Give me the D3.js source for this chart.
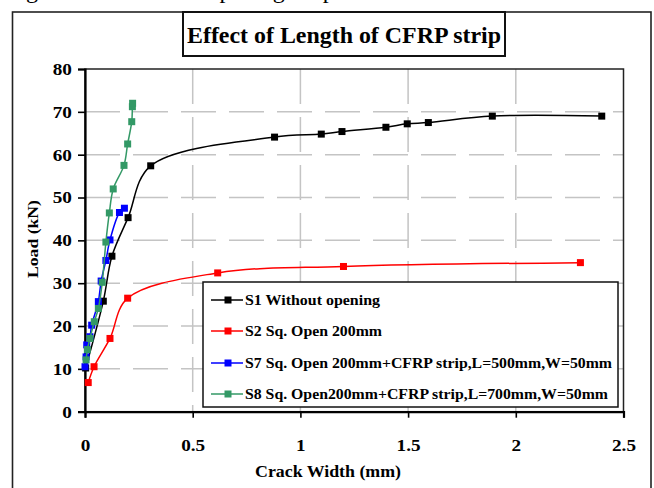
<!DOCTYPE html>
<html>
<head>
<meta charset="utf-8">
<script src="https://cdn.jsdelivr.net/npm/d3@7"></script>
<style>
  body { margin: 0; background: #fff; }
  svg { display: block; }
  text { font-family: "Liberation Serif", "Times New Roman", serif; fill: #000; }
</style>
</head>
<body>
<svg id="chart" width="654" height="488"></svg>
<script>
// Load vs crack width for the four slab specimens
const captionText = "Figure 5.3: Effect of opening shape on load-crack width";
const chartTitle = "Effect of Length of CFRP strip";
const xAxisTitle = "Crack Width (mm)";
const yAxisTitle = "Load (kN)";

const xTickValues = [0, 0.5, 1, 1.5, 2, 2.5];
const yTickValues = [0, 10, 20, 30, 40, 50, 60, 70, 80];

const seriesNames = [
  "S1 Without opening",
  "S2 Sq. Open 200mm",
  "S7 Sq. Open 200mm+CFRP strip,L=500mm,W=50mm",
  "S8 Sq. Open200mm+CFRP strip,L=700mm,W=50mm"
];
const seriesColors = ["#000000", "#ff0000", "#0000ff", "#339966"];

// crack width (mm) / load (kN)
const s1Crack = [0.003, 0.085, 0.125, 0.200, 0.305, 0.880, 1.097, 1.193, 1.397, 1.496, 1.594, 1.891, 2.399];
const s1Load  = [10.2, 25.8, 36.3, 45.3, 57.4, 64.1, 64.8, 65.4, 66.4, 67.2, 67.5, 69.0, 69.0];

const s2Crack = [0.015, 0.042, 0.116, 0.198, 0.616, 1.200, 2.300];
const s2Load  = [6.8, 10.5, 17.1, 26.5, 32.4, 33.9, 34.8];

const s7Crack = [0.000, 0.005, 0.008, 0.023, 0.031, 0.062, 0.075, 0.097, 0.116, 0.160, 0.183];
const s7Load  = [10.5, 12.8, 15.6, 17.5, 20.2, 25.7, 30.5, 35.3, 40.1, 46.5, 47.5];

const s8Crack = [0.005, 0.011, 0.023, 0.043, 0.062, 0.080, 0.097, 0.113, 0.131, 0.181, 0.198, 0.217, 0.220, 0.221];
const s8Load  = [12.1, 14.5, 17.1, 21.0, 24.1, 30.2, 39.6, 46.4, 52.0, 57.5, 62.5, 67.7, 71.2, 72.0];

const seriesCrack = [s1Crack, s2Crack, s7Crack, s8Crack];
const seriesLoad = [s1Load, s2Load, s7Load, s8Load];

const svg = d3.select("#chart");

// plot area
const plotLeft = 85, plotRight = 623.5, plotTop = 69, plotBottom = 411.7;
const x = d3.scaleLinear().domain([0, 2.5]).range([plotLeft, plotRight]);
const y = d3.scaleLinear().domain([0, 80]).range([plotBottom, plotTop]);

// caption line above the frame, mostly outside the page
svg.append("text")
  .attr("x", 6).attr("y", -2)
  .style("font-size", "24px").style("font-weight", "normal")
  .text(captionText);

// outer chart frame
svg.append("rect")
  .attr("x", 12.5).attr("y", 12).attr("width", 638.5).attr("height", 490)
  .attr("fill", "none").attr("stroke", "#222").attr("stroke-width", 1.6);

// title box
svg.append("rect")
  .attr("x", 183).attr("y", 12).attr("width", 322).attr("height", 44)
  .attr("fill", "#fff").attr("stroke", "#111").attr("stroke-width", 2);
svg.append("text")
  .attr("x", 344).attr("y", 43)
  .attr("text-anchor", "middle")
  .attr("textLength", 314).attr("lengthAdjust", "spacingAndGlyphs")
  .style("font-size", "23px").style("font-weight", "bold")
  .text(chartTitle);

// gridlines
const grid = svg.append("g").attr("stroke", "#c4c4c4").attr("stroke-width", 1.5)
  .attr("stroke-dasharray", "35,13");
grid.selectAll("line.h").data(yTickValues.filter(v => v > 0 && v < 80)).join("line")
  .attr("class", "h")
  .attr("x1", plotLeft).attr("x2", plotRight)
  .attr("y1", d => y(d)).attr("y2", d => y(d));
grid.selectAll("line.v").data(xTickValues.filter(v => v > 0 && v < 2.5)).join("line")
  .attr("class", "v")
  .attr("x1", d => x(d)).attr("x2", d => x(d))
  .attr("y1", plotTop).attr("y2", plotBottom);

// plot border
svg.append("rect")
  .attr("x", plotLeft).attr("y", plotTop)
  .attr("width", plotRight - plotLeft).attr("height", plotBottom - plotTop)
  .attr("fill", "none").attr("stroke", "#222").attr("stroke-width", 1.5);

// axes
const xAxis = svg.append("g")
  .attr("transform", `translate(0,${plotBottom})`)
  .call(d3.axisBottom(x).tickValues(xTickValues).tickSize(6).tickPadding(22).tickFormat(d3.format("")));
const yAxis = svg.append("g")
  .attr("transform", `translate(${plotLeft},0)`)
  .call(d3.axisLeft(y).tickValues(yTickValues).tickSize(7).tickPadding(12));

[xAxis, yAxis].forEach(g => {
  g.select(".domain").attr("stroke", "#000").attr("stroke-width", 2.2);
  g.selectAll(".tick line").attr("stroke", "#000").attr("stroke-width", 1.6);
  g.selectAll(".tick text")
    .attr("fill", "#000")
    .style("font-family", "'Liberation Serif', serif")
    .style("font-size", "16px").style("font-weight", "bold");
});
xAxis.selectAll(".tick text").attr("transform", "scale(1.2,1)");
yAxis.selectAll(".tick text").attr("transform", "scale(1.2,1)").attr("x", -11).attr("dy", "0.34em");

// axis titles
svg.append("text")
  .attr("x", 328).attr("y", 477)
  .attr("text-anchor", "middle")
  .attr("textLength", 146).attr("lengthAdjust", "spacingAndGlyphs")
  .style("font-size", "16px").style("font-weight", "bold")
  .text(xAxisTitle);
svg.append("text")
  .attr("transform", "translate(38,239) rotate(-90)")
  .attr("text-anchor", "middle")
  .attr("textLength", 78).attr("lengthAdjust", "spacingAndGlyphs")
  .style("font-size", "15px").style("font-weight", "bold")
  .text(yAxisTitle);

// series lines and markers
const line = d3.line()
  .x(d => x(d[0])).y(d => y(d[1]))
  .curve(d3.curveCatmullRom.alpha(0.5));

seriesNames.forEach((name, i) => {
  const pts = seriesCrack[i].map((c, j) => [c, seriesLoad[i][j]]);
  const g = svg.append("g");
  g.append("path").datum(pts)
    .attr("d", line)
    .attr("fill", "none").attr("stroke", seriesColors[i]).attr("stroke-width", 1.5);
  g.selectAll("rect").data(pts).join("rect")
    .attr("x", d => x(d[0]) - 3.5).attr("y", d => y(d[1]) - 3.5)
    .attr("width", 7).attr("height", 7)
    .attr("fill", seriesColors[i]);
});

// legend
const legend = svg.append("g");
legend.append("rect")
  .attr("x", 203).attr("y", 282).attr("width", 415).attr("height", 125)
  .attr("fill", "#fff").attr("stroke", "#111").attr("stroke-width", 1.5);
const legendWidths = [135, 137, 367, 363];
const rowY = [300, 331, 363, 394];
seriesNames.forEach((name, i) => {
  const ry = rowY[i];
  legend.append("line")
    .attr("x1", 211).attr("x2", 243).attr("y1", ry).attr("y2", ry)
    .attr("stroke", seriesColors[i]).attr("stroke-width", 1.5);
  legend.append("rect")
    .attr("x", 224.5).attr("y", ry - 3.5).attr("width", 7).attr("height", 7)
    .attr("fill", seriesColors[i]);
  legend.append("text")
    .attr("x", 245).attr("y", ry + 5)
    .attr("textLength", legendWidths[i]).attr("lengthAdjust", "spacingAndGlyphs")
    .style("font-size", "15px").style("font-weight", "bold")
    .text(name);
});
</script>
</body>
</html>
